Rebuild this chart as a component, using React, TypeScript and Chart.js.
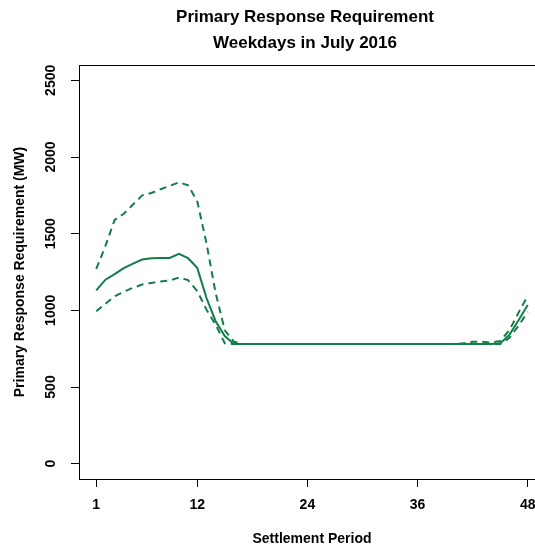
import { useEffect, useRef } from "react";
import { Chart, registerables } from "chart.js";

Chart.register(...registerables);

// Settlement periods (half-hours of the day)
const PERIODS = [
  1, 2, 3, 4, 5, 6, 7, 8, 9, 10, 11, 12, 13, 14, 15, 16, 17, 18, 19, 20, 21, 22, 23, 24,
  25, 26, 27, 28, 29, 30, 31, 32, 33, 34, 35, 36, 37, 38, 39, 40, 41, 42, 43, 44, 45, 46, 47, 48,
];

// Mean primary response requirement (MW)
const MEAN = [
  1130, 1200, 1236, 1275, 1305, 1331, 1340, 1342, 1342, 1368, 1340, 1277, 1082, 929, 832,
  780, 780, 780, 780, 780, 780, 780, 780, 780, 780, 780, 780, 780, 780, 780, 780, 780, 780,
  780, 780, 780, 780, 780, 780, 780, 780, 780, 780, 780, 785, 840, 935, 1035,
];

// Upper band (MW)
const UPPER = [
  1270, 1420, 1590, 1630, 1690, 1750, 1765, 1790, 1812, 1835, 1816, 1711, 1440, 1114, 870,
  795, 780, 780, 780, 780, 780, 780, 780, 780, 780, 780, 780, 780, 780, 780, 780, 780, 780,
  780, 780, 780, 780, 780, 780, 780, 785, 795, 795, 790, 800, 870, 985, 1095,
];

// Lower band (MW)
const LOWER = [
  994, 1043, 1092, 1121, 1147, 1168, 1179, 1188, 1194, 1214, 1197, 1125, 1006, 906, 785,
  780, 780, 780, 780, 780, 780, 780, 780, 780, 780, 780, 780, 780, 780, 780, 780, 780, 780,
  780, 780, 780, 780, 780, 780, 780, 780, 780, 780, 780, 780, 820, 900, 990,
];

const X_TICKS = [1, 12, 24, 36, 48];
const Y_TICKS = [0, 500, 1000, 1500, 2000, 2500];
const TITLE_LINES = ["Primary Response Requirement", "Weekdays in July 2016"];
const X_TITLE = "Settlement Period";
const Y_TITLE = "Primary Response Requirement (MW)";

const GREEN = "#137d48";
const FONT = "'Liberation Sans', Arial, Helvetica, sans-serif";

const points = (vals: number[]) => PERIODS.map((p, i) => ({ x: p, y: vals[i] }));

// Draws the box top/right edges, the two-line title and the rotated y tick labels
const decorations = {
  id: "decorations",
  afterDraw(chart: any) {
    const { ctx, chartArea: a, scales } = chart;
    ctx.save();
    ctx.strokeStyle = "#000";
    ctx.lineWidth = 1;
    ctx.beginPath();
    ctx.moveTo(a.left, Math.round(a.top) + 0.5);
    ctx.lineTo(a.right, Math.round(a.top) + 0.5);
    ctx.moveTo(Math.round(a.right) + 0.5, a.top);
    ctx.lineTo(Math.round(a.right) + 0.5, a.bottom);
    ctx.stroke();

    ctx.fillStyle = "#000";
    ctx.textAlign = "center";
    ctx.textBaseline = "middle";
    ctx.font = `bold 17px ${FONT}`;
    TITLE_LINES.forEach((t, i) => ctx.fillText(t, 305, 17 + i * 26));

    ctx.font = `bold 14px ${FONT}`;
    for (const v of Y_TICKS) {
      const y = scales.y.getPixelForValue(v);
      ctx.save();
      ctx.translate(51, y);
      ctx.rotate(-Math.PI / 2);
      ctx.fillText(String(v), 0, 0);
      ctx.restore();
    }
    ctx.restore();
  },
};

export default function App() {
  const ref = useRef<HTMLCanvasElement | null>(null);

  useEffect(() => {
    if (!ref.current) return;
    const line = (data: number[], dashed: boolean) => ({
      data: points(data),
      borderColor: GREEN,
      borderWidth: 2,
      borderDash: dashed ? [7, 5] : [],
      pointRadius: 0,
      tension: 0,
      fill: false,
    });
    const chart = new Chart(ref.current, {
      type: "line",
      data: {
        datasets: [line(UPPER, true), line(MEAN, false), line(LOWER, true)],
      },
      options: {
        animation: false,
        responsive: false,
        events: [],
        layout: { padding: { top: 65, right: 15, bottom: 0, left: 0 } },
        plugins: { legend: { display: false }, title: { display: false }, tooltip: { enabled: false } },
        scales: {
          x: {
            type: "linear",
            min: -0.88,
            max: 49.88,
            afterBuildTicks: (s: any) => {
              s.ticks = X_TICKS.map((v) => ({ value: v }));
            },
            afterFit: (s: any) => {
              s.height = 71;
            },
            ticks: {
              autoSkip: false,
              maxRotation: 0,
              color: "#000",
              padding: 10,
              font: { family: FONT, size: 14, weight: "bold" },
              callback: (v: any) => String(v),
            },
            grid: { drawOnChartArea: false, drawTicks: true, tickLength: 8, tickColor: "#000", tickWidth: 1 },
            border: { display: true, color: "#000", width: 1 },
            title: {
              display: true,
              text: X_TITLE,
              color: "#000",
              font: { family: FONT, size: 14, weight: "bold" },
              padding: { top: 0, bottom: 2 },
            },
          },
          y: {
            type: "linear",
            min: -100,
            max: 2600,
            afterBuildTicks: (s: any) => {
              s.ticks = Y_TICKS.map((v) => ({ value: v }));
            },
            afterFit: (s: any) => {
              s.width = 79;
            },
            ticks: { display: false },
            grid: { drawOnChartArea: false, drawTicks: true, tickLength: 8, tickColor: "#000", tickWidth: 1 },
            border: { display: true, color: "#000", width: 1 },
            title: {
              display: true,
              text: Y_TITLE,
              color: "#000",
              font: { family: FONT, size: 14, weight: "bold" },
              padding: { top: 12, bottom: 0 },
            },
          },
        },
      },
      plugins: [decorations],
    });
    return () => chart.destroy();
  }, []);

  return (
    <div style={{ position: "fixed", left: 0, top: 0, width: 535, height: 550, overflow: "hidden", background: "#fff" }}>
      <canvas ref={ref} width={560} height={550} style={{ display: "block", width: 560, height: 550 }} />
    </div>
  );
}
